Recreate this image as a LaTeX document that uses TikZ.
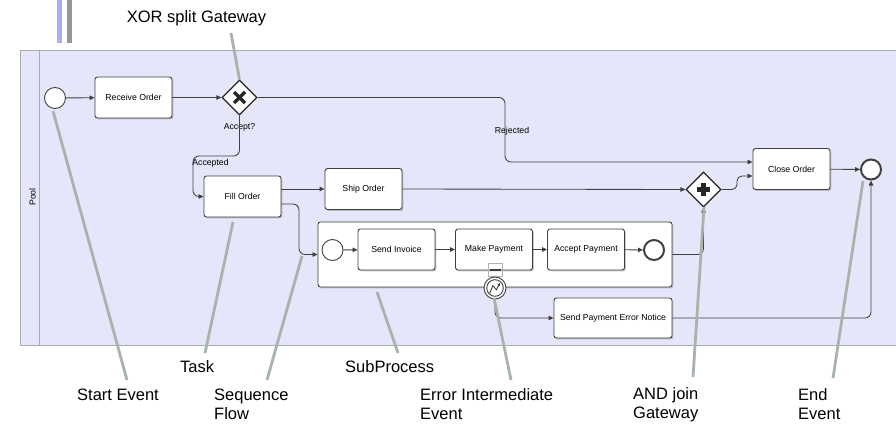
\documentclass[tikz,border=0pt]{standalone}
\usepackage{fontspec}
\setmainfont{Liberation Sans}
\usetikzlibrary{arrows.meta,shapes.geometric,shadows}

\definecolor{poolfill}{RGB}{230,230,250}
\definecolor{poolline}{RGB}{170,170,182}
\definecolor{flowline}{RGB}{64,64,64}
\definecolor{annotline}{RGB}{168,180,170}
\definecolor{barblue}{RGB}{172,172,245}
\definecolor{bargray}{RGB}{150,150,150}

\newcommand\smallfont{\fontsize{8.7}{10}\selectfont}
\newcommand\annfont{\fontsize{16.5}{19}\selectfont}

\tikzset{
  task/.style={draw=flowline, fill=white, rounded corners=2.5pt, line width=0.9pt,
    minimum width=77pt, minimum height=41pt, inner sep=0pt, font=\smallfont,
    drop shadow={shadow xshift=1.4pt, shadow yshift=-1.4pt, fill=black!45, opacity=0.5}},
  startev/.style={circle, draw=flowline, fill=white, line width=0.9pt, minimum size=21pt, inner sep=0pt},
  endev/.style={circle, draw=flowline, fill=white, line width=2pt, minimum size=20pt, inner sep=0pt},
  gateway/.style={diamond, draw=black!85, fill=white, line width=1.2pt, minimum width=35pt,
    minimum height=35pt, inner sep=0pt},
  flow/.style={draw=flowline, line width=0.85pt, rounded corners=6pt,
    -{Triangle[length=5pt,width=4.5pt]}},
  flowlabel/.style={font=\smallfont, inner sep=0pt},
  annot/.style={draw=annotline, line width=2.8pt},
  anntext/.style={font=\annfont, inner sep=0pt, align=left}
}

\begin{document}
\begin{tikzpicture}[x=1pt, y=-1pt]
\useasboundingbox (0,0) rectangle (896,425);

% header bars
\fill[barblue] (56.5,0) rectangle (61.5,43);
\fill[bargray] (66.5,0) rectangle (72,43);

% pool with its name band
\filldraw[fill=poolfill, draw=poolline, line width=0.8pt] (20,50) rectangle (899,345);
\draw[poolline, line width=0.8pt] (39,50) -- (39,345);
\node[font=\smallfont, rotate=90] (poolname) at (32.5,197) {Pool};

% main flow elements
\node[startev] (start) at (55,98) {};
\node[task] (recv) at (133.5,97.5) {Receive Order};
\node[gateway] (xor) at (239.5,97.5) {};
\draw[black!85, line width=3.3pt] (234,92) -- (245,103) (245,92) -- (234,103);
\node[flowlabel] (acc) at (239.5,127) {Accept?};

\node[task] (fill) at (242.5,196.5) {Fill Order};
\node[task] (ship) at (363.5,189) {Ship Order};
\node[gateway] (and) at (703.5,189.5) {};
\draw[black!85, line width=4.5pt] (697,189.5) -- (710,189.5) (703.5,183) -- (703.5,196);
\node[task] (close) at (791.5,169) {Close Order};
\node[endev] (end) at (871,169.5) {};

% payment subprocess
\node[task, minimum width=354pt, minimum height=65pt] (sub) at (495,254.5) {};
\node[startev] (sstart) at (332.5,250) {};
\node[task] (sinv) at (396.5,249.5) {Send Invoice};
\node[task] (mpay) at (494,249.5) {Make Payment};
\node[task] (apay) at (586,249.5) {Accept Payment};
\node[endev] (send) at (654,250) {};

% boundary error event
\draw[black!30, line width=0.6pt] (488,263) rectangle (502,276);
\draw[flowline, line width=1.6pt] (489.5,269.8) -- (500.5,269.8);
\node[circle, draw=flowline, fill=white, line width=0.9pt, minimum size=22pt, inner sep=0pt] (err) at (495,288) {};
\draw[flowline, line width=0.9pt] (err.center) circle (8.3pt);
\begin{scope}[shift={(err.center)}]
  \draw[flowline, line width=0.9pt, line join=miter, -{Triangle[length=2.6pt,width=2.6pt]}]
    (-5.2,5.2) -- (-2.2,-2.4) -- (1.4,1.8) -- (4.8,-5);
\end{scope}
\node[task, minimum width=118pt, minimum height=40pt] (notice) at (613,318) {Send Payment Error Notice};

% sequence flows
\coordinate (rjturn) at (505,162);
\coordinate (acturn) at (239.5,156);
\coordinate (acdown) at (193,196.5);
\coordinate (fsturn) at (299,254.5);
\coordinate (andturn) at (737,176);

\draw[flow] (start) -- (recv);
\draw[flow] (recv) -- (xor);
\draw[flow] (xor.east) -| (rjturn) -- ([yshift=7pt]close.west);
\node[flowlabel] (rej) at (512,131) {Rejected};
\draw[flow] (xor.south) -- (acturn) -| (acdown) -- (fill.west);
\node[flowlabel] (accd) at (210.5,163) {Accepted};
\draw[flow] (ship.west -| fill.east) -- (ship.west);
\draw[flow] ([yshift=-7.5pt]fill.east) -| (fsturn) -- (sub.west);
\draw[flow] (ship.east) -- (and.west);
\draw[flow, rounded corners=5pt] (and.east) -| (andturn) -- ([yshift=-7pt]close.west);
\draw[flow] (close) -- (end);
\draw[flow] (sub.east) -| (and.south);
\draw[flow] (sstart) -- (sinv);
\draw[flow] (sinv) -- (mpay);
\draw[flow] (mpay) -- (apay);
\draw[flow] (apay) -- (send);
\draw[flow] (err.south) |- (notice.west);
\draw[flow] (notice.east) -| (end.south);

% annotations
\node[anntext] (tXor) at (196.5,18) {XOR split Gateway};
\node[anntext, anchor=west] (tStart) at (77,395) {Start Event};
\node[anntext, anchor=west] (tTask) at (180,367) {Task};
\node[anntext, anchor=west] (tSeq) at (214,404.5) {Sequence\\Flow};
\node[anntext, anchor=west] (tSub) at (345,367) {SubProcess};
\node[anntext, anchor=west] (tErr) at (420,404.5) {Error Intermediate\\Event};
\node[anntext, anchor=west] (tAnd) at (633,404.5) {AND join\\Gateway};
\node[anntext, anchor=west] (tEnd) at (798,404.5) {End\\Event};

\coordinate (aXor) at (231,33);
\coordinate (aStart1) at (53,111);   \coordinate (aStart2) at (127,380);
\coordinate (aTask1) at (233,222);   \coordinate (aTask2) at (205,353);
\coordinate (aSeq1) at (302,256);    \coordinate (aSeq2) at (267,380);
\coordinate (aSub1) at (377,292);    \coordinate (aSub2) at (398,353);
\coordinate (aErr1) at (494,298);    \coordinate (aErr2) at (511,380);
\coordinate (aAnd1) at (704,207);    \coordinate (aAnd2) at (693,377);
\coordinate (aEnd1) at (863,181);    \coordinate (aEnd2) at (833,378);

\draw[annot] (aXor) -- (xor.north);
\draw[annot] (aStart1) -- (aStart2);
\draw[annot] (aTask1) -- (aTask2);
\draw[annot] (aSeq1) -- (aSeq2);
\draw[annot] (aSub1) -- (aSub2);
\draw[annot] (aErr1) -- (aErr2);
\draw[annot] (aAnd1) -- (aAnd2);
\draw[annot] (aEnd1) -- (aEnd2);
\end{tikzpicture}
\end{document}
